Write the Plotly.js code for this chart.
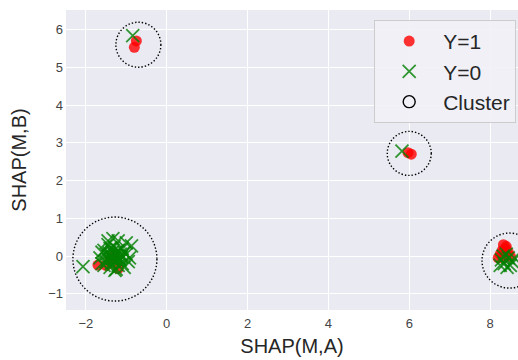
<!DOCTYPE html>
<html>
<head>
<meta charset="utf-8">
<script src="https://cdn.plot.ly/plotly-3.0.1.min.js"></script>
<style>html,body{margin:0;padding:0;background:#fff;}#chart{width:518px;height:360px;}</style>
</head>
<body>
<div id="chart"></div>
<script>
// Y=1 points (red circles)
var y1X = [-0.75, -0.80, 5.97, 6.05,
  8.30, 8.38, 8.25, 8.45, 8.35, 8.20, 8.50, 8.40, 8.33,
  -1.70, -1.20, -1.40, -1.30, -1.50];
var y1Y = [5.70, 5.53, 2.74, 2.70,
  0.15, 0.20, 0.05, 0.10, -0.05, -0.05, 0.00, 0.25, 0.30,
  -0.24, -0.33, -0.10, 0.00, -0.25];

// Y=0 points (green crosses)
var y0X = [-0.84, 5.82,
  8.28, 8.35, 8.45, 8.55, 8.40, 8.25, 8.50, 8.60, 8.32, 8.42,
  -2.07, -1.33, -1.20, -0.87, -1.45, -1.55, -1.10, -1.00, -0.95, -1.05,
  -1.25, -1.40, -1.60, -1.65, -1.50, -1.35, -1.25, -1.15, -1.30, -1.45,
  -1.20, -1.40, -1.10, -1.30, -1.55, -1.20, -1.00, -1.35, -1.25, -1.15,
  -1.50, -1.45, -1.05, -1.60, -1.28, -0.92, -1.38, -1.18,
  -1.32, -1.22, -1.42, -1.12, -1.27, -1.37];
var y0Y = [5.84, 2.78,
  -0.10, -0.20, -0.05, -0.15, 0.05, -0.25, -0.25, -0.05, 0.00, -0.30,
  -0.28, 0.46, 0.40, 0.27, 0.30, 0.15, 0.20, 0.05, -0.15, -0.30,
  -0.35, -0.30, -0.20, -0.05, 0.05, 0.10, 0.00, -0.10, -0.15, -0.10,
  0.15, 0.20, -0.20, 0.25, -0.25, -0.25, 0.35, -0.05, 0.10, 0.05,
  -0.15, 0.40, 0.10, 0.10, -0.38, -0.05, 0.02, -0.05,
  -0.08, -0.12, 0.08, -0.02, 0.05, -0.20];

// Cluster centres and marker diameters (px)
var clusterX = [-0.70, -1.28, 6.00, 8.48];
var clusterY = [5.60, -0.08, 2.72, -0.12];
var clusterD = [45, 84, 44, 55];

var xTicks = [-2, 0, 2, 4, 6, 8];
var yTicks = [-1, 0, 1, 2, 3, 4, 5, 6];

function fmt(v) { return v < 0 ? '\u2212' + Math.abs(v) : String(v); }

var traces = [
  {type: 'scatter', mode: 'markers', name: 'Y=1', x: y1X, y: y1Y,
   marker: {symbol: 'circle', size: 11, color: 'rgba(255,0,0,0.8)', line: {width: 0}}},
  {type: 'scatter', mode: 'markers', name: 'Y=0', x: y0X, y: y0Y,
   marker: {symbol: 'x-thin-open', size: 13, color: 'rgba(0,128,0,0.8)', line: {width: 1.8, color: 'rgba(0,128,0,0.8)'}}}
];

var shapes = clusterX.map(function (cx, i) {
  var r = clusterD[i] / 2;
  return {
    type: 'circle', xref: 'x', yref: 'y',
    xsizemode: 'pixel', ysizemode: 'pixel',
    xanchor: cx, yanchor: clusterY[i],
    x0: -r, x1: r, y0: -r, y1: r,
    line: {color: 'black', width: 1.4, dash: '1.4px,2px'},
    fillcolor: 'rgba(0,0,0,0)',
    name: 'Cluster', showlegend: i === 0, legendgroup: 'cluster'
  };
});

var layout = {
  width: 518, height: 360,
  margin: {l: 66, r: 0, t: 10, b: 50},
  paper_bgcolor: '#ffffff',
  plot_bgcolor: '#EAEAF2',
  font: {family: 'Liberation Sans, Arial, sans-serif', color: '#262626'},
  showlegend: true,
  xaxis: {
    range: [-2.49, 8.69], tickvals: xTicks, ticktext: xTicks.map(fmt),
    showgrid: true, gridcolor: '#ffffff', gridwidth: 1, zeroline: false, showline: false,
    ticks: '', tickfont: {size: 13, color: '#444444'}, ticklabelstandoff: 4,
    title: {text: 'SHAP(M,A)', font: {size: 20, color: '#262626'}, standoff: 8}
  },
  yaxis: {
    range: [-1.43, 6.52], tickvals: yTicks, ticktext: yTicks.map(fmt),
    showgrid: true, gridcolor: '#ffffff', gridwidth: 1, zeroline: false, showline: false,
    ticks: '', tickfont: {size: 13, color: '#444444'}, ticklabelstandoff: 2,
    title: {text: 'SHAP(M,B)', font: {size: 20, color: '#262626'}, standoff: 16}
  },
  legend: {
    x: 0.996, y: 0.967, xanchor: 'right', yanchor: 'top',
    bgcolor: 'rgba(241,241,246,0.9)', bordercolor: '#cccccc', borderwidth: 1,
    font: {size: 21, color: '#262626'},
    itemwidth: 58, tracegroupgap: 0
  },
  shapes: shapes
};

Plotly.newPlot('chart', traces, layout, {displayModeBar: false, staticPlot: true});
</script>
</body>
</html>
